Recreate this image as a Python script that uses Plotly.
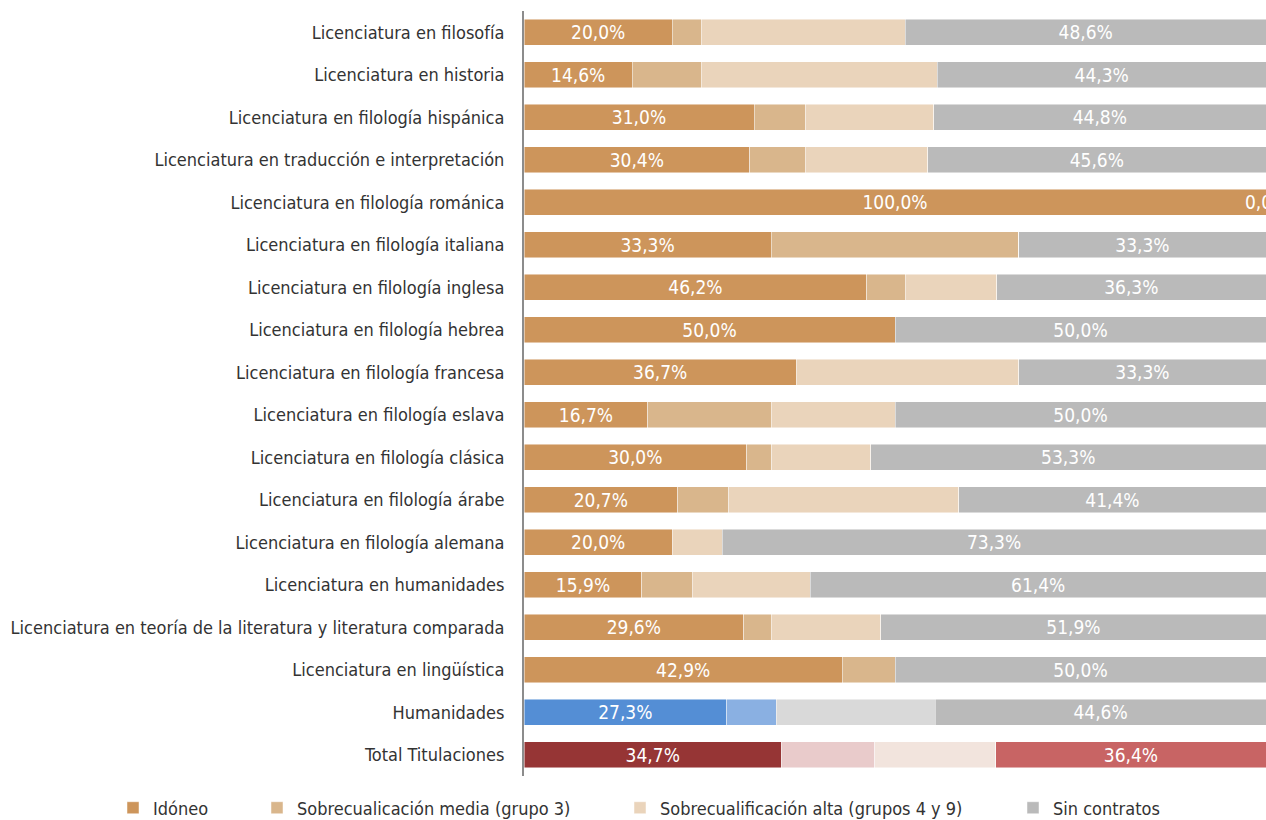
import plotly.graph_objects as go

categories = [
    "Licenciatura en filosofía",
    "Licenciatura en historia",
    "Licenciatura en filología hispánica",
    "Licenciatura en traducción e interpretación",
    "Licenciatura en filología románica",
    "Licenciatura en filología italiana",
    "Licenciatura en filología inglesa",
    "Licenciatura en filología hebrea",
    "Licenciatura en filología francesa",
    "Licenciatura en filología eslava",
    "Licenciatura en filología clásica",
    "Licenciatura en filología árabe",
    "Licenciatura en filología alemana",
    "Licenciatura en humanidades",
    "Licenciatura en teoría de la literatura y literatura comparada",
    "Licenciatura en lingüística",
    "Humanidades",
    "Total Titulaciones",
]

idoneo = [20.0, 14.6, 31.0, 30.4, 100.0, 33.3, 46.2, 50.0, 36.7, 16.7, 30.0, 20.7, 20.0, 15.9, 29.6, 42.9, 27.3, 34.7]
media = [3.9, 9.3, 7.0, 7.5, 0.0, 33.4, 5.2, 0.0, 0.0, 16.6, 3.4, 6.9, 0.0, 6.8, 3.7, 7.1, 6.7, 12.6]
alta = [27.5, 31.8, 17.2, 16.5, 0.0, 0.0, 12.3, 0.0, 30.0, 16.7, 13.3, 31.0, 6.7, 15.9, 14.8, 0.0, 21.4, 16.3]
sin = [48.6, 44.3, 44.8, 45.6, 0.0, 33.3, 36.3, 50.0, 33.3, 50.0, 53.3, 41.4, 73.3, 61.4, 51.9, 50.0, 44.6, 36.4]

series_names = [
    "Idóneo",
    "Sobrecualicación media (grupo 3)",
    "Sobrecualificación alta (grupos 4 y 9)",
    "Sin contratos",
]

base_colors = ["#CD955B", "#D9B68C", "#EAD4BB", "#BABABA"]
hum_colors = ["#548ED5", "#8AB0E2", "#D9D9D9", "#BABABA"]
total_colors = ["#963535", "#E9CBCB", "#F2E4DD", "#C86464"]


def fmt(v):
    return f"{v:.1f}".replace(".", ",") + "%"


def colors_for(i):
    out = []
    for c in categories:
        if c == "Humanidades":
            out.append(hum_colors[i])
        elif c == "Total Titulaciones":
            out.append(total_colors[i])
        else:
            out.append(base_colors[i])
    return out


FONT = "Liberation Sans Narrow, DejaVu Sans Condensed, Arial Narrow, sans-serif"

fig = go.Figure()
all_vals = [idoneo, media, alta, sin]
legends = ["legend", "legend2", "legend3", "legend4"]
for i, (name, vals) in enumerate(zip(series_names, all_vals)):
    show_text = i in (0, 3)
    fig.add_trace(go.Bar(
        y=categories,
        x=vals,
        orientation="h",
        name=name,
        legend=legends[i],
        showlegend=True,
        marker=dict(color=colors_for(i), line=dict(color="rgba(255,255,255,0.6)", width=0.8)),
        text=[fmt(v) for v in vals] if show_text else None,
        textposition="inside" if show_text else "none",
        insidetextanchor="middle",
        textangle=0,
        textfont=dict(color="white", size=19, family=FONT),
        constraintext="none",
        cliponaxis=False,
    ))

# zero-width "Sin contratos" labels (e.g. 0,0% at the bar end)
for c, a, b, d, s in zip(categories, idoneo, media, alta, sin):
    if s == 0:
        fig.add_annotation(x=a + b + d, y=c, text=fmt(s), showarrow=False,
                           xanchor="center", font=dict(color="white", size=19, family=FONT))

fig.update_layout(
    barmode="stack",
    bargap=0.38,
    width=1266,
    height=820,
    showlegend=True,
    margin=dict(l=524, r=0, t=11, b=44, autoexpand=False),
    plot_bgcolor="white",
    paper_bgcolor="white",
    font=dict(family=FONT, size=18, color="#333333"),
    xaxis=dict(range=[0, 100], showticklabels=False, showgrid=False, zeroline=False, showline=False, fixedrange=True),
    yaxis=dict(autorange="reversed", showline=True, linecolor="#8C8C8C", linewidth=2,
               ticks="", showgrid=False, ticklabelstandoff=14, automargin=False,
               tickfont=dict(size=18, family=FONT, color="#333333")),
)

leg_common = dict(orientation="h", xref="container", yref="container", yanchor="middle", y=0.0146,
                  xanchor="left", bgcolor="rgba(0,0,0,0)",
                  font=dict(size=18, family=FONT, color="#333333"), itemwidth=30,
                  tracegroupgap=0)
fig.update_layout(
    legend=dict(x=113 / 1266, **leg_common),
    legend2=dict(x=257 / 1266, **leg_common),
    legend3=dict(x=620 / 1266, **leg_common),
    legend4=dict(x=1013 / 1266, **leg_common),
)

fig.write_html("out.html", config={"displayModeBar": False},
               post_script="document.body.style.margin='0';")
